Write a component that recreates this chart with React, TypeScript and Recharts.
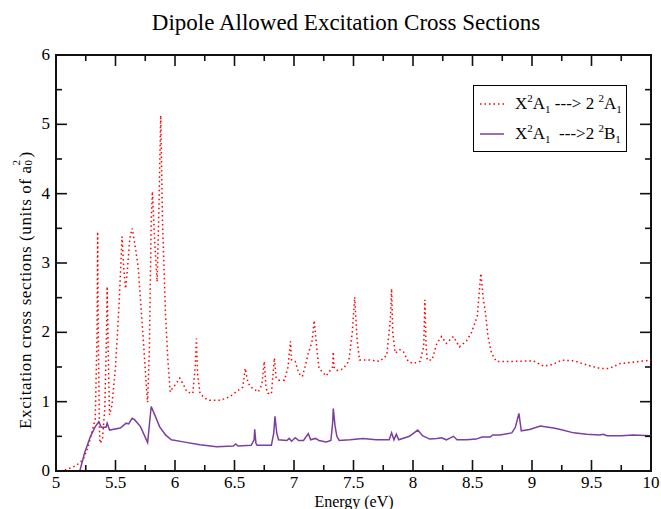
import React from 'react';
import { LineChart, Line, XAxis, YAxis, ReferenceArea, CartesianGrid } from 'recharts';

// X2A1 -> 2 2A1 (red dotted)
const energyA = [
  5.0, 5.05, 5.1, 5.16, 5.2, 5.23, 5.27, 5.3, 5.33, 5.345, 5.35, 5.355, 5.365, 5.37, 5.39, 5.41, 5.425, 5.43,
  5.44, 5.45, 5.47, 5.5, 5.53, 5.555, 5.57, 5.585, 5.6, 5.62, 5.64, 5.66, 5.69, 5.73, 5.76, 5.77, 5.785, 5.8,
  5.81, 5.83, 5.85, 5.865, 5.88, 5.895, 5.92, 5.94, 5.96, 5.98, 6.0, 6.04, 6.07, 6.1, 6.15, 6.17, 6.18, 6.19,
  6.21, 6.25, 6.29, 6.38, 6.46, 6.52, 6.57, 6.59, 6.61, 6.63, 6.7, 6.73, 6.75, 6.765, 6.78, 6.81, 6.835, 6.85,
  6.87, 6.92, 6.95, 6.97, 6.98, 7.01, 7.04, 7.07, 7.1, 7.12, 7.15, 7.17, 7.19, 7.21, 7.27, 7.325, 7.33, 7.335,
  7.36, 7.41, 7.46, 7.49, 7.51, 7.53, 7.55, 7.58, 7.64, 7.72, 7.78, 7.81, 7.82, 7.83, 7.85, 7.89, 7.92, 7.96,
  8.0, 8.06, 8.09, 8.1, 8.11, 8.12, 8.16, 8.2, 8.24, 8.28, 8.34, 8.39, 8.45, 8.49, 8.54, 8.57, 8.59, 8.61,
  8.63, 8.66, 8.7, 8.84, 9.01, 9.1, 9.18, 9.25, 9.35, 9.46, 9.57, 9.65, 9.74, 9.85, 10.0,
];
const crossA = [
  0, 0, 0.03, 0.07, 0.12, 0.17, 0.35, 0.55, 0.75, 2.0, 3.45, 2.0, 0.6, 0.4, 0.45, 0.9, 2.0, 2.66,
  1.6, 0.81, 0.95, 1.5, 2.4, 3.38, 2.9, 2.63, 2.9, 3.35, 3.5, 3.3, 2.95, 1.99, 1.2, 0.99, 1.8, 3.6,
  4.03, 3.3, 2.73, 3.8, 5.13, 3.6, 2.28, 1.6, 1.14, 1.2, 1.24, 1.34, 1.25, 1.14, 1.12, 1.5, 1.91, 1.4,
  1.12, 1.05, 1.02, 1.02, 1.07, 1.15, 1.21, 1.48, 1.3, 1.22, 1.14, 1.25, 1.58, 1.2, 1.12, 1.11, 1.63, 1.35,
  1.31, 1.31, 1.5, 1.87, 1.6, 1.58, 1.41, 1.36, 1.55, 1.7, 1.85, 2.17, 1.8, 1.48, 1.37, 1.5, 1.72, 1.5,
  1.45, 1.47, 1.58, 2.0, 2.51, 1.9, 1.6, 1.6, 1.6, 1.58, 1.67, 2.2, 2.63, 2.0, 1.7, 1.75, 1.72, 1.58,
  1.55, 1.58, 1.8, 2.47, 1.8, 1.6, 1.6, 1.84, 1.94, 1.84, 1.94, 1.79, 1.88, 1.99, 2.23, 2.85, 2.5, 2.27,
  1.94, 1.7, 1.58, 1.58, 1.59, 1.51, 1.54, 1.6, 1.59, 1.53, 1.48, 1.48, 1.55, 1.57, 1.6,
];

// X2A1 -> 2 2B1 (purple solid)
const energyB = [
  5.2, 5.24, 5.29, 5.33, 5.36, 5.38, 5.42, 5.43, 5.45, 5.54, 5.59, 5.61, 5.64, 5.66, 5.71, 5.77, 5.8, 5.83,
  5.87, 5.92, 5.97, 6.07, 6.21, 6.35, 6.49, 6.51, 6.53, 6.64, 6.665, 6.67, 6.68, 6.69, 6.81, 6.83, 6.84, 6.855,
  6.87, 6.94, 6.96, 6.98, 7.01, 7.04, 7.08, 7.12, 7.14, 7.18, 7.21, 7.27, 7.31, 7.325, 7.33, 7.345, 7.36, 7.38,
  7.47, 7.58, 7.69, 7.8, 7.82, 7.84, 7.86, 7.88, 7.97, 8.04, 8.08, 8.14, 8.2, 8.24, 8.28, 8.34, 8.37, 8.45,
  8.53, 8.58, 8.65, 8.67, 8.73, 8.83, 8.86, 8.89, 8.91, 8.98, 9.07, 9.18, 9.24, 9.35, 9.46, 9.57, 9.6, 9.63,
  9.75, 9.85, 10.0,
];
const crossB = [
  0, 0.26, 0.5, 0.64, 0.71, 0.63, 0.63, 0.69, 0.59, 0.62, 0.69, 0.68, 0.76, 0.74, 0.64, 0.41, 0.93, 0.81,
  0.64, 0.52, 0.45, 0.42, 0.38, 0.35, 0.36, 0.39, 0.36, 0.37, 0.45, 0.6, 0.4, 0.37, 0.37, 0.55, 0.79, 0.55,
  0.45, 0.44, 0.47, 0.43, 0.48, 0.44, 0.44, 0.54, 0.45, 0.47, 0.44, 0.42, 0.44, 0.7, 0.9, 0.65, 0.5, 0.44,
  0.45, 0.47, 0.45, 0.45, 0.55, 0.45, 0.53, 0.45, 0.5, 0.59, 0.51, 0.46, 0.47, 0.48, 0.45, 0.5, 0.45, 0.45,
  0.46, 0.49, 0.49, 0.52, 0.52, 0.55, 0.63, 0.83, 0.58, 0.6, 0.65, 0.62, 0.6, 0.55, 0.53, 0.52, 0.53, 0.51,
  0.51, 0.52, 0.51,
];

const xTicks = [5, 5.25, 5.5, 5.75, 6, 6.25, 6.5, 6.75, 7, 7.25, 7.5, 7.75, 8, 8.25, 8.5, 8.75, 9, 9.25, 9.5, 9.75, 10];
const yTicks = [0, 0.5, 1, 1.5, 2, 2.5, 3, 3.5, 4, 4.5, 5, 5.5, 6];

const seriesA = energyA.map((e, i) => ({ energy: e, value: crossA[i] }));
const seriesB = energyB.map((e, i) => ({ energy: e, value: crossB[i] }));

const SERIF = '"Liberation Serif", "Times New Roman", serif';
const RED = '#ff0000';
const PURPLE = '#7b3f9f';
const FRAME = '#111';

// plot frame edges (px), matching the chart margins below
const PLOT = { left: 56, right: 651, top: 55, bottom: 471 };

const isMajorX = (v: number) => Number.isInteger(v * 2);
const isMajorY = (v: number) => Number.isInteger(v);

// x ticks point inwards from both the bottom and the top edge
const XTick = (props: any) => {
  const { payload } = props;
  const x = payload.coordinate;
  const major = isMajorX(payload.value);
  const len = major ? 11 : 6;
  return (
    <g>
      <line x1={x} x2={x} y1={PLOT.bottom} y2={PLOT.bottom - len} stroke={FRAME} strokeWidth={1.6} />
      <line x1={x} x2={x} y1={PLOT.top} y2={PLOT.top + len} stroke={FRAME} strokeWidth={1.6} />
      {major && (
        <text x={x} y={PLOT.bottom + 17} textAnchor="middle" fontFamily={SERIF} fontSize={17} fill="#000">
          {payload.value}
        </text>
      )}
    </g>
  );
};

// y ticks point inwards from both the left and the right edge
const YTick = (props: any) => {
  const { payload } = props;
  const y = payload.coordinate;
  const major = isMajorY(payload.value);
  const len = major ? 11 : 6;
  return (
    <g>
      <line x1={PLOT.left} x2={PLOT.left + len} y1={y} y2={y} stroke={FRAME} strokeWidth={1.6} />
      <line x1={PLOT.right} x2={PLOT.right - len} y1={y} y2={y} stroke={FRAME} strokeWidth={1.6} />
      {major && (
        <text x={PLOT.left - 6} y={y + 5} textAnchor="end" fontFamily={SERIF} fontSize={17} fill="#000">
          {payload.value}
        </text>
      )}
    </g>
  );
};

const Sup = ({ children }: any) => (
  <span style={{ fontSize: 11, position: 'relative', top: -7 }}>{children}</span>
);
const Sub = ({ children }: any) => (
  <span style={{ fontSize: 11, position: 'relative', top: 4 }}>{children}</span>
);

const legendRow: React.CSSProperties = { display: 'flex', alignItems: 'center', height: 30, whiteSpace: 'pre' };

const LegendBox = () => (
  <div
    style={{
      position: 'absolute',
      left: 473,
      top: 85,
      width: 154,
      height: 67,
      boxSizing: 'border-box',
      border: '1px solid #000',
      background: '#fff',
      fontFamily: SERIF,
      fontSize: 17,
      lineHeight: '20px',
      color: '#000',
      padding: '3px 0 0 5px',
    }}
  >
    <div style={legendRow}>
      <svg width={36} height={10} style={{ flex: 'none' }}>
        <line x1={1} x2={25} y1={5} y2={5} stroke={RED} strokeWidth={1.5} strokeDasharray="1.5 3" />
      </svg>
      <span>
        X<Sup>2</Sup>A<Sub>1</Sub> ---{'>'} 2 <Sup>2</Sup>A<Sub>1</Sub>
      </span>
    </div>
    <div style={legendRow}>
      <svg width={36} height={10} style={{ flex: 'none' }}>
        <line x1={1} x2={25} y1={5} y2={5} stroke={PURPLE} strokeWidth={1.5} />
      </svg>
      <span>
        X<Sup>2</Sup>A<Sub>1</Sub>  ---{'>'}2 <Sup>2</Sup>B<Sub>1</Sub>
      </span>
    </div>
  </div>
);

export default function App() {
  return (
    <div style={{ position: 'absolute', left: 0, top: 0, width: 661, height: 509, background: '#fff' }}>
      <LineChart width={661} height={509} margin={{ top: 55, right: 10, bottom: 0, left: 0 }}>
        {/* grid lines only on the four plot edges: acts as the frame */}
        <CartesianGrid
          xAxisId="x"
          yAxisId="y"
          stroke={FRAME}
          strokeWidth={2}
          horizontalCoordinatesGenerator={() => [PLOT.top, PLOT.bottom]}
          verticalCoordinatesGenerator={() => [PLOT.left, PLOT.right]}
        />
        <XAxis
          xAxisId="x"
          dataKey="energy"
          type="number"
          domain={[5, 10]}
          ticks={xTicks}
          interval={0}
          allowDataOverflow
          height={38}
          tickLine={false}
          tick={<XTick />}
          axisLine={{ stroke: FRAME, strokeWidth: 2 }}
        />
        <YAxis
          yAxisId="y"
          type="number"
          domain={[0, 6]}
          ticks={yTicks}
          interval={0}
          allowDataOverflow
          width={56}
          tickLine={false}
          tick={<YTick />}
          axisLine={{ stroke: FRAME, strokeWidth: 2 }}
        />
        <ReferenceArea
          xAxisId="x"
          yAxisId="y"
          x1={5}
          x2={10}
          y1={0}
          y2={6}
          fill="#ffffff"
          fillOpacity={0}
          stroke={FRAME}
          strokeWidth={2}
          ifOverflow="visible"
        />
        <Line
          xAxisId="x"
          yAxisId="y"
          data={seriesA}
          dataKey="value"
          type="linear"
          stroke={RED}
          strokeWidth={1.5}
          strokeDasharray="1.5 3"
          dot={false}
          isAnimationActive={false}
        />
        <Line
          xAxisId="x"
          yAxisId="y"
          data={seriesB}
          dataKey="value"
          type="linear"
          stroke={PURPLE}
          strokeWidth={1.5}
          dot={false}
          isAnimationActive={false}
        />
      </LineChart>
      <div
        style={{
          position: 'absolute',
          left: 0,
          width: 692,
          top: 10,
          textAlign: 'center',
          fontFamily: SERIF,
          fontSize: 23,
          lineHeight: 'normal',
          color: '#000',
        }}
      >
        Dipole Allowed Excitation Cross Sections
      </div>
      <div
        style={{
          position: 'absolute',
          left: 26 - 160,
          top: 290 - 10,
          width: 320,
          height: 20,
          lineHeight: '20px',
          textAlign: 'center',
          transform: 'rotate(-90deg)',
          fontFamily: SERIF,
          fontSize: 17,
          letterSpacing: 0.6,
          whiteSpace: 'nowrap',
          color: '#000',
        }}
      >
        Excitation cross sections (units of a
        <span style={{ display: 'inline-block', position: 'relative', width: 8, height: 20, verticalAlign: 'top' }}>
          <span style={{ position: 'absolute', left: 0, top: 7, fontSize: 11, lineHeight: '11px' }}>0</span>
          <span style={{ position: 'absolute', left: 0, top: -5, fontSize: 11, lineHeight: '11px' }}>2</span>
        </span>
        )
      </div>
      <div
        style={{
          position: 'absolute',
          left: 254,
          width: 200,
          top: 493,
          textAlign: 'center',
          fontFamily: SERIF,
          fontSize: 16,
          lineHeight: '18px',
          color: '#000',
        }}
      >
        Energy (eV)
      </div>
      <LegendBox />
    </div>
  );
}
